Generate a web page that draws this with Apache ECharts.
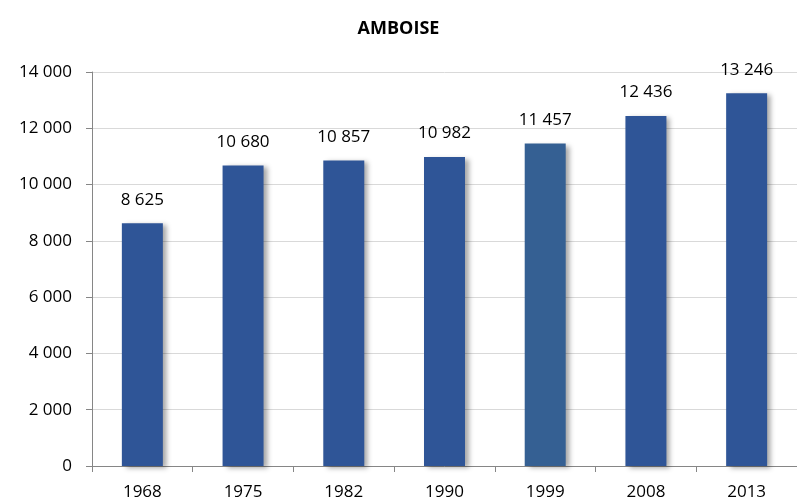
<!DOCTYPE html>
<html>
<head>
<meta charset="utf-8">
<script src="https://cdn.jsdelivr.net/npm/echarts@6/dist/echarts.min.js"></script>
<style>
    html, body { margin: 0; padding: 0; background: #fff; }
    #chart { width: 797px; height: 501px; }
</style>
</head>
<body>
<div id="chart"></div>
<script>
// données
let years = ['1968', '1975', '1982', '1990', '1999', '2008', '2013']
let population = [8625, 10680, 10857, 10982, 11457, 12436, 13246]
let barColors = ['#2f5597', '#2f5597', '#2f5597', '#2f5597', '#356093', '#2f5597', '#2f5597']

function fmt(v) {
    // séparateur de milliers : espace
    return String(v).replace(/\B(?=(\d{3})+(?!\d))/g, ' ')
}

let font = 'Open Sans'

let chart = echarts.init(document.getElementById('chart'))

let option = {
    animation: false,
    title: {
        text: 'AMBOISE',
        left: 'center',
        top: 15,
        textStyle: {
            fontFamily: font,
            fontWeight: 'bold',
            fontSize: 18,
            color: '#000'
        }
    },
    grid: {
        left: 92,
        right: 0,
        top: 72,
        bottom: 35
    },
    xAxis: {
        type: 'category',
        data: years,
        axisLine: { lineStyle: { color: '#868686' } },
        axisTick: { show: true, length: 6, lineStyle: { color: '#868686' } },
        axisLabel: {
            fontFamily: font,
            fontSize: 17,
            color: '#000',
            margin: 18
        }
    },
    yAxis: {
        type: 'value',
        min: 0,
        max: 14000,
        interval: 2000,
        axisLine: { show: true, lineStyle: { color: '#868686' } },
        axisTick: { show: true, length: 6, lineStyle: { color: '#868686' } },
        axisLabel: {
            fontFamily: font,
            fontSize: 17,
            color: '#000',
            margin: 20,
            formatter: fmt
        },
        splitLine: { lineStyle: { color: '#d9d9d9' } }
    },
    series: [{
        type: 'bar',
        barWidth: 41,
        data: population.map((v, i) => ({
            value: v,
            itemStyle: { color: barColors[i] }
        })),
        itemStyle: {
            shadowBlur: 5,
            shadowOffsetX: 4,
            shadowOffsetY: 2,
            shadowColor: 'rgba(0, 0, 0, 0.35)'
        },
        label: {
            show: true,
            position: 'top',
            distance: 15,
            fontFamily: font,
            fontSize: 17,
            color: '#000',
            formatter: p => fmt(p.value)
        }
    }]
}

chart.setOption(option)
</script>
</body>
</html>
